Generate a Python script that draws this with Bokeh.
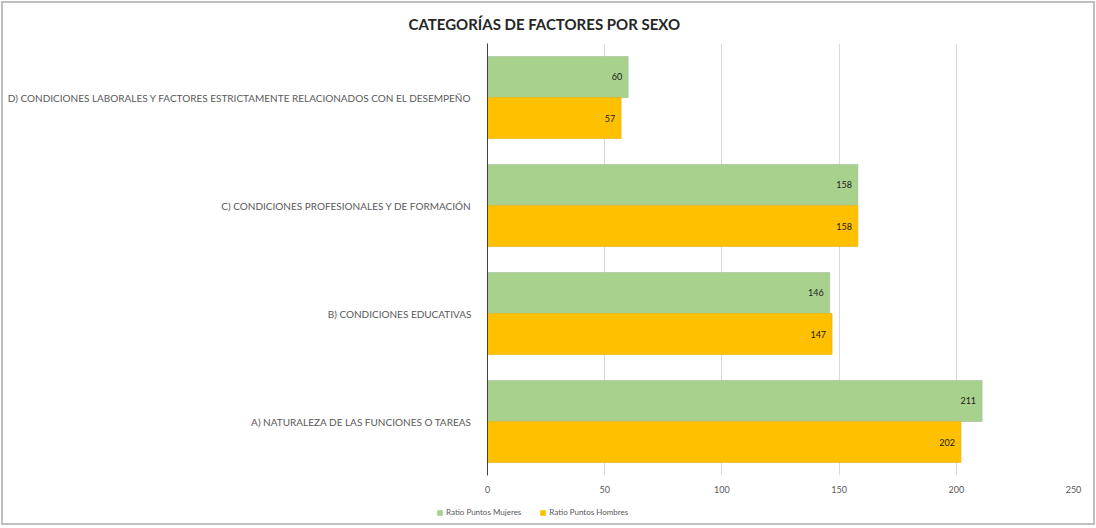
from bokeh.plotting import figure
from bokeh.layouts import column
from bokeh.models import (ColumnDataSource, Range1d, FixedTicker, LabelSet,
                          Legend, LegendItem)
from bokeh.core.properties import value
from bokeh.embed import file_html
from bokeh.resources import INLINE

# Categories, listed bottom to top
categories = [
    "A) NATURALEZA DE LAS FUNCIONES O TAREAS",
    "B) CONDICIONES EDUCATIVAS",
    "C) CONDICIONES PROFESIONALES Y DE FORMACIÓN",
    "D) CONDICIONES LABORALES Y FACTORES ESTRICTAMENTE RELACIONADOS CON EL DESEMPEÑO",
]
ratio_mujeres = [211, 146, 158, 60]
ratio_hombres = [202, 147, 158, 57]
series_names = ["Ratio Puntos Mujeres", "Ratio Puntos Hombres"]
x_ticks = [0, 50, 100, 150, 200, 250]

GREEN = "#A9D18E"
YELLOW = "#FFC000"
TEXT_GREY = "#595959"
FONT = "Lato"

centers = [i + 0.5 for i in range(len(categories))]
bar_h = 0.38

src = ColumnDataSource(dict(
    y_m=[c + bar_h / 2 for c in centers],
    y_h=[c - bar_h / 2 for c in centers],
    mujeres=ratio_mujeres,
    hombres=ratio_hombres,
    lab_m=[str(v) for v in ratio_mujeres],
    lab_h=[str(v) for v in ratio_hombres],
))

p = figure(width=1090, height=500,
           x_range=Range1d(0, 250), y_range=Range1d(0, len(categories)),
           output_backend="svg", toolbar_location=None,
           min_border_left=484, min_border_right=20,
           min_border_top=40, min_border_bottom=28)
p.frame_align = False
p.outline_line_color = None
p.background_fill_color = "white"
p.border_fill_color = "white"

p.title.text = "CATEGORÍAS DE FACTORES POR SEXO"
p.title.align = "left"
p.title.offset = -79
p.title.vertical_align = "middle"
p.title.text_font = FONT
p.title.text_font_style = "bold"
p.title.text_font_size = "15px"
p.title.text_color = "#262626"
p.title.standoff = 20

p.hbar(y="y_m", left=0, right="mujeres", height=bar_h, source=src,
       fill_color=GREEN, line_color="#9FB894", line_width=0.6)
p.hbar(y="y_h", left=0, right="hombres", height=bar_h, source=src,
       fill_color=YELLOW, line_color="#E6B000", line_width=0.6)

# value labels inside the bar ends
for yname, xname, lname in (("y_m", "mujeres", "lab_m"), ("y_h", "hombres", "lab_h")):
    p.add_layout(LabelSet(x=xname, y=yname, text=lname, source=src,
                          x_offset=-6, text_align="right", text_baseline="middle",
                          text_font=value(FONT), text_font_size="9px",
                          text_color="#1a1a1a"))

# x axis: labels only
p.xaxis.ticker = FixedTicker(ticks=x_ticks)
p.xaxis.axis_line_color = None
p.xaxis.major_tick_line_color = None
p.xaxis.minor_tick_line_color = None
p.xaxis.major_label_text_color = TEXT_GREY
p.xaxis.major_label_text_font = FONT
p.xaxis.major_label_text_font_size = "9px"
p.xaxis.major_label_standoff = 4

# y axis: category names
p.yaxis.ticker = FixedTicker(ticks=centers)
p.yaxis.major_label_overrides = {c: name for c, name in zip(centers, categories)}
p.yaxis.axis_line_color = "#404040"
p.yaxis.axis_line_width = 1
p.yaxis.major_tick_line_color = None
p.yaxis.minor_tick_line_color = None
p.yaxis.major_label_text_color = TEXT_GREY
p.yaxis.major_label_text_font = FONT
p.yaxis.major_label_text_font_size = "10px"
p.yaxis.major_label_standoff = 10

p.xgrid.grid_line_color = "#D9D9D9"
p.xgrid.grid_line_width = 1
p.xgrid.ticker = FixedTicker(ticks=x_ticks[1:])
p.ygrid.grid_line_color = None

# legend strip under the chart
leg = figure(width=1090, height=20, x_range=Range1d(0, 1), y_range=Range1d(0, 1),
             output_backend="svg", toolbar_location=None, min_border=0)
leg.frame_align = False
leg.axis.visible = False
leg.grid.visible = False
leg.outline_line_color = None
leg.border_fill_color = "white"
leg.background_fill_color = "white"
k_m = leg.hbar(y=[-10], right=[1], height=1, fill_color=GREEN, line_color=None)
k_h = leg.hbar(y=[-10], right=[1], height=1, fill_color=YELLOW, line_color=None)
legend = Legend(items=[LegendItem(label=series_names[0], renderers=[k_m]),
                       LegendItem(label=series_names[1], renderers=[k_h])],
                orientation="horizontal", location=(433, 6),
                label_text_font=FONT, label_text_font_size="8px",
                label_text_color=TEXT_GREY, glyph_width=7, glyph_height=7,
                label_height=8, label_standoff=3, spacing=18, padding=0, margin=0,
                border_line_color=None, background_fill_alpha=0)
leg.add_layout(legend, "center")

page = column(p, leg, spacing=0,
              styles={"border": "2px solid #BFBFBF", "margin": "1px 0 0 1px"})

open("out.html", "w").write(file_html(page, INLINE))
